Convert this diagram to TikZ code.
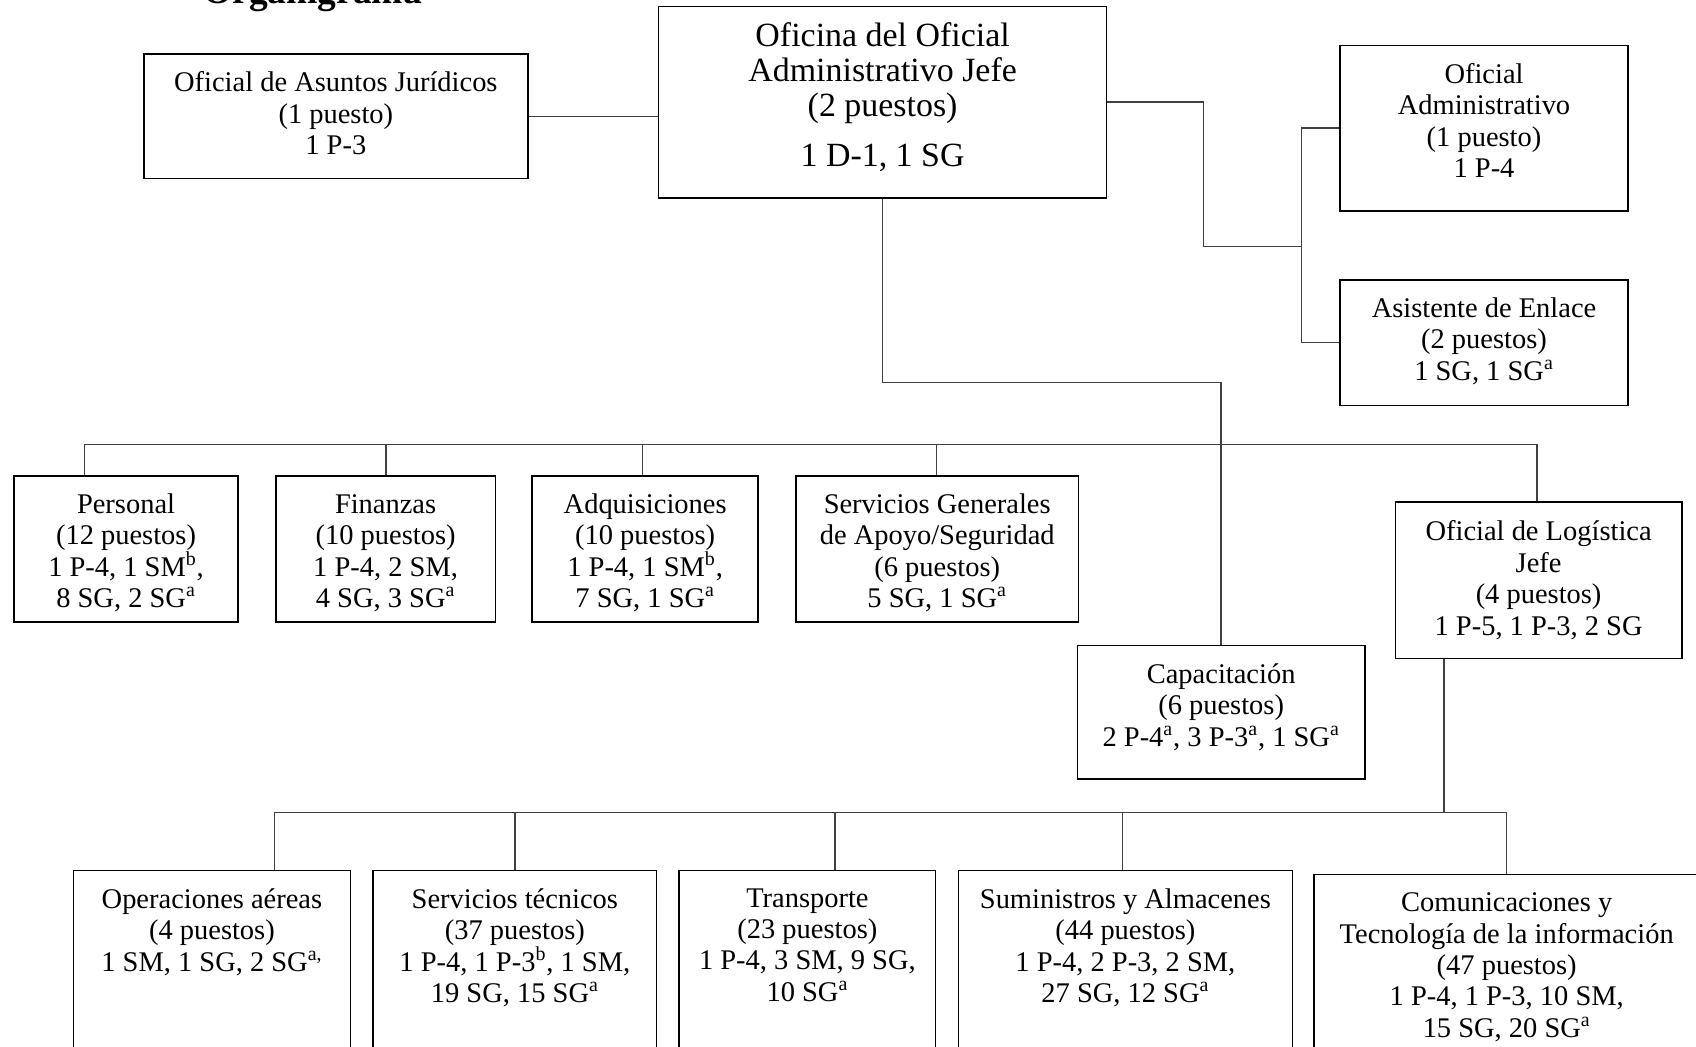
\documentclass[tikz,border=0pt]{standalone}
\usepackage{fontspec}
\setmainfont{Liberation Serif}
\usepackage{tikz}
\usetikzlibrary{positioning}

\newcommand{\unitfont}{\fontsize{16.2}{17.9}\selectfont}
\newcommand{\chieffont}{\fontsize{19.3}{19.9}\selectfont}
\newcommand{\sa}{\textsuperscript{a}}
\newcommand{\sbb}{\textsuperscript{b}}
% struts to nudge the text inside a box
\newcommand{\lowertxt}[1]{\rule{0pt}{#1}}
\newcommand{\raisetxt}[1]{\rule[-#1]{0pt}{#1}}

\begin{document}
\begin{tikzpicture}[
    unit/.style={rectangle, draw, line width=0.9pt, align=center, inner sep=0pt, font=\unitfont},
    section/.style={unit, anchor=north, inner ysep=0.36cm, text depth=4cm},
    link/.style={draw=black!75, line width=0.8pt},
    title/.style={anchor=base, font=\bfseries\fontsize{21.3}{24}\selectfont}
]
\useasboundingbox (0,0) rectangle (33.92,-20.94);

% Title
\node[title] (titulo) at (6.252,-0.08) {Organigrama};

% Top level
\node[unit, minimum width=8.956cm, minimum height=3.828cm, font=\chieffont] (chief) at (17.652,-2.044)
    {Oficina del Oficial\\Administrativo Jefe\\(2 puestos)\\[0.3cm]1 D-1, 1 SG\raisetxt{0.31cm}};
\node[unit, minimum width=7.678cm, minimum height=2.488cm] (legal) at (6.717,-2.326)
    {Oficial de Asuntos Jurídicos\\(1 puesto)\\1 P-3\raisetxt{0.13cm}};
\node[unit, minimum width=5.76cm, minimum height=3.31cm] (admin) at (29.68,-2.563)
    {Oficial\\Administrativo\\(1 puesto)\\1 P-4\raisetxt{0.3cm}};
\node[unit, minimum width=5.76cm, minimum height=2.512cm] (enlace) at (29.68,-6.856)
    {Asistente de Enlace\\(2 puestos)\\1 SG, 1 SG\sa\raisetxt{0.16cm}};

% Sections
\node[unit, minimum width=4.478cm, minimum height=2.92cm] (personal) at (2.521,-10.978)
    {\lowertxt{0.56cm}Personal\\(12 puestos)\\1 P-4, 1 SM\sbb,\\8 SG, 2 SG\sa};
\node[unit, minimum width=4.392cm, minimum height=2.92cm] (finanzas) at (7.712,-10.978)
    {\lowertxt{0.56cm}Finanzas\\(10 puestos)\\1 P-4, 2 SM,\\4 SG, 3 SG\sa};
\node[unit, minimum width=4.522cm, minimum height=2.92cm] (adquis) at (12.903,-10.978)
    {\lowertxt{0.56cm}Adquisiciones\\(10 puestos)\\1 P-4, 1 SM\sbb,\\7 SG, 1 SG\sa};
\node[unit, minimum width=5.648cm, minimum height=2.92cm] (servgen) at (18.744,-10.978)
    {\lowertxt{0.56cm}Servicios Generales\\de Apoyo/Seguridad\\(6 puestos)\\5 SG, 1 SG\sa};
\node[unit, minimum width=5.754cm, minimum height=2.662cm] (capac) at (24.423,-14.245)
    {Capacitación\\(6 puestos)\\2 P-4\sa, 3 P-3\sa, 1 SG\sa\raisetxt{0.3cm}};
\node[unit, minimum width=5.732cm, minimum height=3.136cm] (logist) at (30.772,-11.606)
    {Oficial de Logística\\Jefe\\(4 puestos)\\1 P-5, 1 P-3, 2 SG};

% Logistics units
\node[section, minimum width=5.538cm] (aereas) at (4.239,-17.392)
    {Operaciones aéreas\\(4 puestos)\\1 SM, 1 SG, 2 SG\textsuperscript{a,}};
\node[section, minimum width=5.666cm] (tecnicos) at (10.297,-17.392)
    {Servicios técnicos\\(37 puestos)\\1 P-4, 1 P-3\sbb, 1 SM,\\19 SG, 15 SG\sa};
\node[section, minimum width=5.128cm] (transp) at (16.148,-17.392)
    {Transporte\\(23 puestos)\\1 P-4, 3 SM, 9 SG,\\10 SG\sa};
\node[section, minimum width=6.684cm] (sumin) at (22.508,-17.392)
    {Suministros y Almacenes\\(44 puestos)\\1 P-4, 2 P-3, 2 SM,\\27 SG, 12 SG\sa};
\node[section, minimum width=7.704cm] (comunic) at (30.134,-17.478)
    {Comunicaciones y\\Tecnología de la información\\(47 puestos)\\1 P-4, 1 P-3, 10 SM,\\15 SG, 20 SG\sa};

% Connections at the top
\draw[link] (legal.east) -- (legal.east -| chief.west);
\coordinate (jn) at (26.024,-4.932);
\draw[link] (chief.east) -- ++(1.924,0) |- (jn);
\draw[link] (admin.west) -| (jn) |- (enlace.west);
\draw[link] (chief.south) -- ++(0,-3.678) -| (capac.north);

% Bus to the sections
\foreach \x/\n in {1.688/personal, 7.722/finanzas, 12.85/adquis, 18.734/servgen, 30.74/logist} {
    \coordinate (d\n) at (\x,-8.89);
    \draw[link] (d\n) -- (d\n |- \n.north);
}
\draw[link] (dpersonal) -- (dlogist);

% Bus to the logistics units
\coordinate (lg) at (28.88,-16.246);
\draw[link] (lg |- logist.south) -- (lg);
\foreach \x/\n in {5.494/aereas, 10.296/tecnicos, 16.7/transp, 22.454/sumin, 30.134/comunic} {
    \coordinate (d\n) at (\x,-16.246);
    \draw[link] (d\n) -- (d\n |- \n.north);
}
\draw[link] (daereas) -- (dcomunic);

\end{tikzpicture}
\end{document}
